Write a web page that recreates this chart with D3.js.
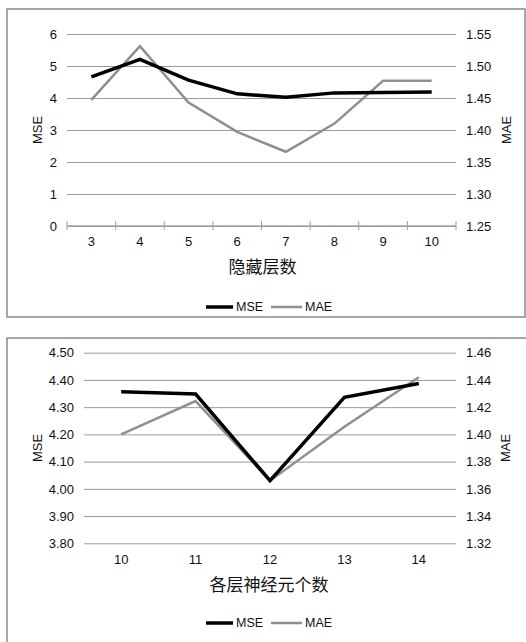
<!DOCTYPE html>
<html>
<head>
<meta charset="utf-8">
<script src="https://cdn.jsdelivr.net/npm/d3@7"></script>
<style>
  body { margin: 0; background: #fff; }
  text { font-family: "Liberation Sans", Arial, sans-serif; fill: #111; }
  .cn { font-family: "Noto Sans CJK SC", sans-serif; }
</style>
</head>
<body>
<script>
// chart 1: hidden layer count
var layers = ["3", "4", "5", "6", "7", "8", "9", "10"];
var layerMSE = [4.66, 5.21, 4.56, 4.13, 4.02, 4.16, 4.17, 4.19];
var layerMAE = [1.447, 1.531, 1.443, 1.397, 1.366, 1.410, 1.477, 1.477];
var layerMSETicks = [0, 1, 2, 3, 4, 5, 6];
var layerMAETicks = [1.25, 1.30, 1.35, 1.40, 1.45, 1.50, 1.55];

// chart 2: neurons per layer
var neurons = ["10", "11", "12", "13", "14"];
var neuronMSE = [4.357, 4.348, 4.03, 4.336, 4.387];
var neuronMAE = [1.400, 1.4245, 1.366, 1.4056, 1.442];
var neuronMSETicks = [3.80, 3.90, 4.00, 4.10, 4.20, 4.30, 4.40, 4.50];
var neuronMAETicks = [1.32, 1.34, 1.36, 1.38, 1.40, 1.42, 1.44, 1.46];

var W = 526;
var H = 642;

var svg = d3.select("body").append("svg")
  .attr("width", W)
  .attr("height", H);

function drawChart(opt) {
  var g = svg.append("g");

  // frame
  g.append("rect")
    .attr("x", opt.frame[0]).attr("y", opt.frame[1])
    .attr("width", opt.frame[2]).attr("height", opt.frame[3])
    .style("fill", "none")
    .style("stroke", "#8a8a8a")
    .style("stroke-width", 1.5);

  var x = d3.scaleBand()
    .domain(opt.cats)
    .range([opt.left, opt.right]);
  var yL = d3.scaleLinear()
    .domain(d3.extent(opt.ticksL))
    .range([opt.bottom, opt.top]);
  var yR = d3.scaleLinear()
    .domain(d3.extent(opt.ticksR))
    .range([opt.bottom, opt.top]);

  // gridlines + left labels
  var gl = g.append("g")
    .attr("transform", "translate(" + opt.left + ",0)")
    .call(d3.axisLeft(yL).tickValues(opt.ticksL)
      .tickSize(-(opt.right - opt.left))
      .tickPadding(10)
      .tickFormat(d3.format(opt.fmtL)));
  gl.select(".domain").remove();
  gl.selectAll(".tick line").style("stroke", "#9a9a9a").style("stroke-width", 1);
  gl.selectAll(".tick text").style("font-size", "13px");

  var gr = g.append("g")
    .attr("transform", "translate(" + opt.right + ",0)")
    .call(d3.axisRight(yR).tickValues(opt.ticksR)
      .tickSize(0)
      .tickPadding(10)
      .tickFormat(d3.format(".2f")));
  gr.select(".domain").remove();
  gr.selectAll(".tick text").style("font-size", "13px");

  // category axis
  var gx = g.append("g")
    .attr("transform", "translate(0," + opt.bottom + ")")
    .call(d3.axisBottom(x).tickSize(0).tickPadding(11));
  gx.select(".domain").remove();
  gx.selectAll(".tick text").style("font-size", "13px");

  if (opt.catTicks) {
    g.append("line")
      .attr("x1", opt.left).attr("x2", opt.right)
      .attr("y1", opt.bottom).attr("y2", opt.bottom)
      .style("stroke", "#a0a0a0").style("stroke-width", 1.5);
    var edges = opt.cats.map(function(c) { return x(c); }).concat([opt.right]);
    g.selectAll(".cattick").data(edges).enter()
      .append("line")
      .attr("x1", function(d) { return d; })
      .attr("x2", function(d) { return d; })
      .attr("y1", opt.bottom - 5)
      .attr("y2", opt.bottom + 4)
      .style("stroke", "#a0a0a0").style("stroke-width", 1);
  }

  // lines
  var cx = function(d, i) { return x(opt.cats[i]) + x.bandwidth() / 2; };
  var lineR = d3.line().x(cx).y(function(d) { return yR(d); });
  var lineL = d3.line().x(cx).y(function(d) { return yL(d); });

  g.append("path").datum(opt.mae)
    .attr("d", lineR)
    .style("fill", "none").style("stroke", "#8f8f8f")
    .style("stroke-width", 2.5).style("stroke-linejoin", "miter");
  g.append("path").datum(opt.mse)
    .attr("d", lineL)
    .style("fill", "none").style("stroke", "#000")
    .style("stroke-width", 3.5).style("stroke-linejoin", "miter");

  // axis titles
  g.append("text")
    .attr("transform", "translate(" + opt.titleLX + "," + ((opt.top + opt.bottom) / 2) + ") rotate(-90)")
    .attr("text-anchor", "middle")
    .attr("dy", "0.35em")
    .style("font-size", "13px")
    .text("MSE");
  g.append("text")
    .attr("transform", "translate(" + opt.titleRX + "," + ((opt.top + opt.bottom) / 2) + ") rotate(-90)")
    .attr("text-anchor", "middle")
    .attr("dy", "0.35em")
    .style("font-size", "13px")
    .text("MAE");
  g.append("text")
    .attr("class", "cn")
    .attr("x", (opt.left + opt.right) / 2 + opt.xTitleShift)
    .attr("y", opt.xTitleY)
    .attr("text-anchor", "middle")
    .attr("dy", "0.35em")
    .style("font-size", "17px")
    .text(opt.xTitle);

  // legend
  var ly = opt.legendY;
  g.append("line").attr("x1", 206).attr("x2", 233).attr("y1", ly).attr("y2", ly)
    .style("stroke", "#000").style("stroke-width", 3.5);
  g.append("text").attr("x", 236).attr("y", ly).attr("dy", "0.35em")
    .style("font-size", "12.5px").text("MSE");
  g.append("line").attr("x1", 271).attr("x2", 302).attr("y1", ly).attr("y2", ly)
    .style("stroke", "#8f8f8f").style("stroke-width", 2.5);
  g.append("text").attr("x", 305).attr("y", ly).attr("dy", "0.35em")
    .style("font-size", "12.5px").text("MAE");
}

drawChart({
  frame: [7, 9, 518, 308],
  cats: layers, mse: layerMSE, mae: layerMAE,
  ticksL: layerMSETicks, ticksR: layerMAETicks, fmtL: "d",
  left: 67, right: 456, top: 34, bottom: 226,
  catTicks: true,
  titleLX: 37, titleRX: 506,
  xTitle: "隐藏层数", xTitleY: 267, xTitleShift: 1,
  legendY: 307
});

drawChart({
  frame: [7, 338, 530, 320],
  cats: neurons, mse: neuronMSE, mae: neuronMAE,
  ticksL: neuronMSETicks, ticksR: neuronMAETicks, fmtL: ".2f",
  left: 84, right: 456, top: 352.7, bottom: 543.3,
  catTicks: false,
  titleLX: 37, titleRX: 505,
  xTitle: "各层神经元个数", xTitleY: 585, xTitleShift: -1,
  legendY: 623
});
</script>
</body>
</html>
